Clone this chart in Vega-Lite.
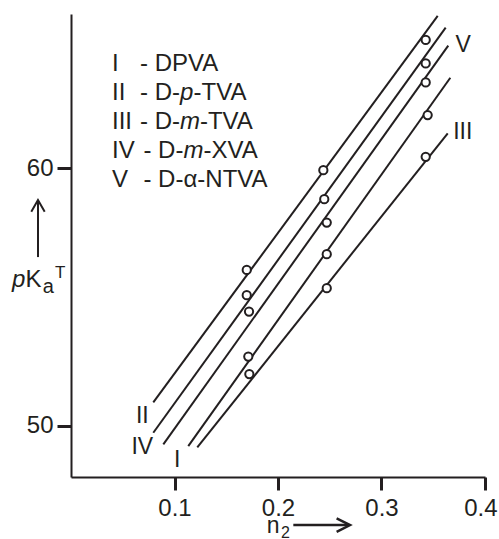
{
  "$schema": "https://vega.github.io/schema/vega-lite/v6.json",
  "width": 414,
  "height": 463,
  "autosize": {"type": "none"},
  "padding": {"left": 71, "top": 14, "right": 14, "bottom": 62},
  "background": "white",
  "config": {
    "view": {"stroke": null},
    "font": "Liberation Sans",
    "text": {"font": "Liberation Sans", "color": "#231f20"}
  },
  "resolve": {"axis": {"x": "independent", "y": "independent"}},
  "data": {"values": [{}]},
  "datasets": {
    "lines": [
      {"series": "I", "end": "low", "n2": 0.1133, "pKa": 49.20},
      {"series": "I", "end": "high", "n2": 0.3665, "pKa": 63.52},
      {"series": "II", "end": "low", "n2": 0.0795, "pKa": 50.90},
      {"series": "II", "end": "high", "n2": 0.3543, "pKa": 65.93},
      {"series": "III", "end": "low", "n2": 0.1220, "pKa": 49.15},
      {"series": "III", "end": "high", "n2": 0.3640, "pKa": 61.36},
      {"series": "IV", "end": "low", "n2": 0.0795, "pKa": 49.72},
      {"series": "IV", "end": "high", "n2": 0.3620, "pKa": 65.47},
      {"series": "V", "end": "low", "n2": 0.0892, "pKa": 49.27},
      {"series": "V", "end": "high", "n2": 0.3645, "pKa": 64.77}
    ],
    "points": [
      {"series": "I", "n2": 0.1713, "pKa": 52.68},
      {"series": "I", "n2": 0.2471, "pKa": 56.66},
      {"series": "I", "n2": 0.3446, "pKa": 62.07},
      {"series": "II", "n2": 0.1698, "pKa": 56.05},
      {"series": "II", "n2": 0.2438, "pKa": 59.93},
      {"series": "II", "n2": 0.3427, "pKa": 64.99},
      {"series": "III", "n2": 0.1723, "pKa": 52.00},
      {"series": "III", "n2": 0.2471, "pKa": 55.34},
      {"series": "III", "n2": 0.3427, "pKa": 60.45},
      {"series": "IV", "n2": 0.1698, "pKa": 55.07},
      {"series": "IV", "n2": 0.2447, "pKa": 58.80},
      {"series": "IV", "n2": 0.3427, "pKa": 64.08},
      {"series": "V", "n2": 0.1720, "pKa": 54.43},
      {"series": "V", "n2": 0.2471, "pKa": 57.89},
      {"series": "V", "n2": 0.3427, "pKa": 63.34}
    ]
  },
  "layer": [
    {
      "data": {"name": "lines"},
      "mark": {"type": "line", "color": "#231f20", "strokeWidth": 2},
      "encoding": {
        "x": {
          "field": "n2", "type": "quantitative", "title": null,
          "scale": {"domain": [0, 0.4], "nice": false, "zero": false},
          "axis": {
            "values": [0.1, 0.2, 0.3, 0.4], "format": ".1f", "title": null, "grid": false,
            "domainColor": "#231f20", "domainWidth": 2,
            "tickColor": "#231f20", "tickWidth": 3, "tickSize": 13,
            "labelFont": "Liberation Sans", "labelFontSize": 24, "labelColor": "#231f20",
            "labelPadding": 6, "labelFlush": 1, "labelFlushOffset": 12, "labelOverlap": false
          }
        },
        "y": {
          "field": "pKa", "type": "quantitative", "title": null,
          "scale": {"domain": [48, 66], "nice": false, "zero": false},
          "axis": {
            "values": [50, 60], "format": "d", "title": null, "grid": false,
            "domainColor": "#231f20", "domainWidth": 2,
            "tickColor": "#231f20", "tickWidth": 3, "tickSize": 14,
            "labelFont": "Liberation Sans", "labelFontSize": 24, "labelColor": "#231f20",
            "labelPadding": 4, "labelOverlap": false
          }
        },
        "detail": {"field": "series"}
      }
    },
    {
      "data": {"name": "points"},
      "mark": {"type": "point", "shape": "circle", "filled": true, "fill": "white", "stroke": "#231f20", "strokeWidth": 2, "size": 68, "opacity": 1},
      "encoding": {
        "x": {"field": "n2", "type": "quantitative", "axis": null},
        "y": {"field": "pKa", "type": "quantitative", "axis": null}
      }
    },
    {
      "data": {"name": "lines"},
      "transform": [{"filter": {"and": [{"field": "end", "equal": "low"}, {"field": "series", "oneOf": ["I", "II", "IV"]}]}}],
      "mark": {"type": "text", "fontSize": 23, "align": "center", "baseline": "middle", "dx": -11, "dy": 14},
      "encoding": {
        "x": {"field": "n2", "type": "quantitative", "axis": null},
        "y": {"field": "pKa", "type": "quantitative", "axis": null},
        "text": {"field": "series"}
      }
    },
    {
      "data": {"name": "lines"},
      "transform": [{"filter": {"and": [{"field": "end", "equal": "high"}, {"field": "series", "oneOf": ["III", "V"]}]}}],
      "mark": {"type": "text", "fontSize": 23, "align": "center", "baseline": "middle", "dx": 15, "dy": -1},
      "encoding": {
        "x": {"field": "n2", "type": "quantitative", "axis": null},
        "y": {"field": "pKa", "type": "quantitative", "axis": null},
        "text": {"field": "series"}
      }
    },
    {"mark": {"type": "text", "text": "I", "align": "left", "baseline": "alphabetic", "fontSize": 24}, "encoding": {"x": {"datum": 0.0396, "axis": null}, "y": {"datum": 63.78, "axis": null}}},
    {"mark": {"type": "text", "text": "- DPVA", "align": "left", "baseline": "alphabetic", "fontSize": 24}, "encoding": {"x": {"datum": 0.0667, "axis": null}, "y": {"datum": 63.78, "axis": null}}},
    {"mark": {"type": "text", "text": "II", "align": "left", "baseline": "alphabetic", "fontSize": 24}, "encoding": {"x": {"datum": 0.0396, "axis": null}, "y": {"datum": 62.66, "axis": null}}},
    {"mark": {"type": "text", "text": "- D-", "align": "left", "baseline": "alphabetic", "fontSize": 24}, "encoding": {"x": {"datum": 0.0667, "axis": null}, "y": {"datum": 62.66, "axis": null}}},
    {"mark": {"type": "text", "text": "p", "align": "left", "baseline": "alphabetic", "fontSize": 24, "fontStyle": "italic"}, "encoding": {"x": {"datum": 0.1053, "axis": null}, "y": {"datum": 62.66, "axis": null}}},
    {"mark": {"type": "text", "text": "-TVA", "align": "left", "baseline": "alphabetic", "fontSize": 24}, "encoding": {"x": {"datum": 0.1184, "axis": null}, "y": {"datum": 62.66, "axis": null}}},
    {"mark": {"type": "text", "text": "III", "align": "left", "baseline": "alphabetic", "fontSize": 24}, "encoding": {"x": {"datum": 0.0396, "axis": null}, "y": {"datum": 61.53, "axis": null}}},
    {"mark": {"type": "text", "text": "- D-", "align": "left", "baseline": "alphabetic", "fontSize": 24}, "encoding": {"x": {"datum": 0.0667, "axis": null}, "y": {"datum": 61.53, "axis": null}}},
    {"mark": {"type": "text", "text": "m", "align": "left", "baseline": "alphabetic", "fontSize": 24, "fontStyle": "italic"}, "encoding": {"x": {"datum": 0.1053, "axis": null}, "y": {"datum": 61.53, "axis": null}}},
    {"mark": {"type": "text", "text": "-TVA", "align": "left", "baseline": "alphabetic", "fontSize": 24}, "encoding": {"x": {"datum": 0.1246, "axis": null}, "y": {"datum": 61.53, "axis": null}}},
    {"mark": {"type": "text", "text": "IV", "align": "left", "baseline": "alphabetic", "fontSize": 24}, "encoding": {"x": {"datum": 0.0396, "axis": null}, "y": {"datum": 60.41, "axis": null}}},
    {"mark": {"type": "text", "text": "- D-", "align": "left", "baseline": "alphabetic", "fontSize": 24}, "encoding": {"x": {"datum": 0.0700, "axis": null}, "y": {"datum": 60.41, "axis": null}}},
    {"mark": {"type": "text", "text": "m", "align": "left", "baseline": "alphabetic", "fontSize": 24, "fontStyle": "italic"}, "encoding": {"x": {"datum": 0.1087, "axis": null}, "y": {"datum": 60.41, "axis": null}}},
    {"mark": {"type": "text", "text": "-XVA", "align": "left", "baseline": "alphabetic", "fontSize": 24}, "encoding": {"x": {"datum": 0.1280, "axis": null}, "y": {"datum": 60.41, "axis": null}}},
    {"mark": {"type": "text", "text": "V", "align": "left", "baseline": "alphabetic", "fontSize": 24}, "encoding": {"x": {"datum": 0.0396, "axis": null}, "y": {"datum": 59.29, "axis": null}}},
    {"mark": {"type": "text", "text": "- D-α-NTVA", "align": "left", "baseline": "alphabetic", "fontSize": 24}, "encoding": {"x": {"datum": 0.0700, "axis": null}, "y": {"datum": 59.29, "axis": null}}},
    {"mark": {"type": "text", "text": "p", "align": "left", "baseline": "alphabetic", "fontSize": 24, "fontStyle": "italic"}, "encoding": {"x": {"datum": -0.0570, "axis": null}, "y": {"datum": 55.37, "axis": null}}},
    {"mark": {"type": "text", "text": "K", "align": "left", "baseline": "alphabetic", "fontSize": 24}, "encoding": {"x": {"datum": -0.0440, "axis": null}, "y": {"datum": 55.37, "axis": null}}},
    {"mark": {"type": "text", "text": "a", "align": "left", "baseline": "alphabetic", "fontSize": 20}, "encoding": {"x": {"datum": -0.0273, "axis": null}, "y": {"datum": 55.14, "axis": null}}},
    {"mark": {"type": "text", "text": "T", "align": "left", "baseline": "alphabetic", "fontSize": 17}, "encoding": {"x": {"datum": -0.0155, "axis": null}, "y": {"datum": 55.72, "axis": null}}},
    {"mark": {"type": "rule", "color": "#231f20", "strokeWidth": 2}, "encoding": {"x": {"datum": -0.0319, "axis": null}, "y": {"datum": 56.55, "axis": null}, "y2": {"datum": 58.70}}},
    {"mark": {"type": "point", "shape": "M -1 1.75 L 0 0 L 1 1.75", "filled": false, "stroke": "#231f20", "strokeWidth": 2, "size": 180, "opacity": 1}, "encoding": {"x": {"datum": -0.0319, "axis": null}, "y": {"datum": 58.77, "axis": null}}},
    {"mark": {"type": "text", "text": "n", "align": "left", "baseline": "alphabetic", "fontSize": 23}, "encoding": {"x": {"datum": 0.1892, "axis": null}, "y": {"datum": 45.81, "axis": null}}},
    {"mark": {"type": "text", "text": "2", "align": "left", "baseline": "alphabetic", "fontSize": 16}, "encoding": {"x": {"datum": 0.2029, "axis": null}, "y": {"datum": 45.62, "axis": null}}},
    {"mark": {"type": "rule", "color": "#231f20", "strokeWidth": 2.5}, "encoding": {"x": {"datum": 0.2148, "axis": null}, "x2": {"datum": 0.2680}, "y": {"datum": 46.13, "axis": null}}},
    {"mark": {"type": "point", "shape": "M -2 -1 L 0 0 L -2 1", "filled": false, "stroke": "#231f20", "strokeWidth": 2.5, "size": 180, "opacity": 1}, "encoding": {"x": {"datum": 0.2696, "axis": null}, "y": {"datum": 46.13, "axis": null}}}
  ]
}
